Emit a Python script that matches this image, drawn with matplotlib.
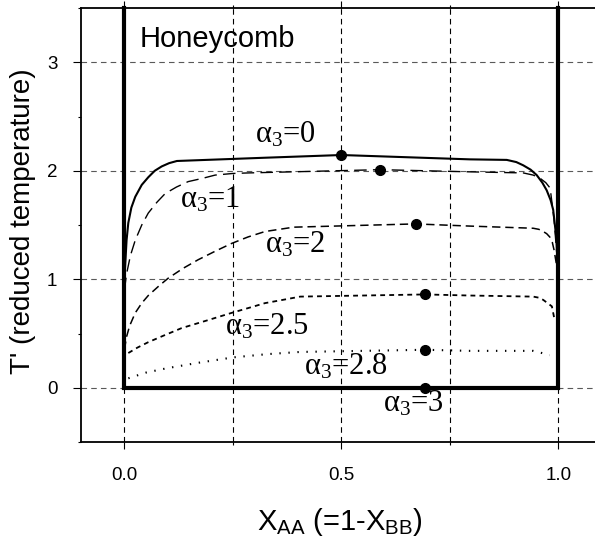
import matplotlib
matplotlib.use('Agg')
import matplotlib.pyplot as plt
from matplotlib.ticker import MultipleLocator, FormatStrFormatter

plt.rcParams['mathtext.fontset'] = 'custom'
plt.rcParams['mathtext.rm'] = 'Liberation Serif'
plt.rcParams['mathtext.it'] = 'Liberation Serif:italic'
plt.rcParams['mathtext.sf'] = 'Liberation Sans'
plt.rcParams['mathtext.default'] = 'rm'
plt.rcParams['lines.scale_dashes'] = False

# phase boundaries, one per alpha_3
x_a0 = [0.0, 0.005, 0.009, 0.016, 0.025, 0.04, 0.055, 0.07, 0.086, 0.103, 0.121, 0.324, 0.5,
        0.796, 0.881, 0.903, 0.919, 0.936, 0.95, 0.963, 0.973, 0.982, 0.988, 0.995, 1.0]
y_a0 = [1.0, 1.36, 1.52, 1.66, 1.76, 1.87, 1.94, 2.0, 2.04, 2.07, 2.09, 2.12, 2.145,
        2.105, 2.10, 2.08, 2.05, 2.01, 1.96, 1.89, 1.82, 1.73, 1.64, 1.39, 1.0]

x_a1 = [0.0, 0.005, 0.014, 0.025, 0.04, 0.055, 0.075, 0.094, 0.12, 0.147, 0.18, 0.209, 0.25, 0.286,
        0.589, 0.796, 0.919, 0.942, 0.958, 0.971, 0.981, 0.99, 0.997]
y_a1 = [0.9, 1.05, 1.22, 1.36, 1.50, 1.61, 1.71, 1.79, 1.85, 1.90, 1.93, 1.96, 1.975, 1.98,
        2.01, 1.99, 1.98, 1.96, 1.93, 1.89, 1.84, 1.55, 1.2]

x_a2 = [0.0, 0.005, 0.012, 0.025, 0.04, 0.055, 0.08, 0.101, 0.135, 0.17, 0.21, 0.247, 0.285, 0.324,
        0.39, 0.671, 0.796, 0.942, 0.955, 0.965, 0.973, 0.98, 0.986, 0.99, 0.997]
y_a2 = [0.35, 0.47, 0.57, 0.69, 0.78, 0.85, 0.94, 1.01, 1.10, 1.18, 1.26, 1.33, 1.39, 1.44,
        1.48, 1.51, 1.49, 1.47, 1.46, 1.44, 1.42, 1.39, 1.34, 1.27, 1.1]

x_a25 = [0.009, 0.03, 0.055, 0.09, 0.132, 0.19, 0.247, 0.29, 0.324, 0.365, 0.405, 0.693,
         0.796, 0.942, 0.955, 0.965, 0.975, 0.985, 0.99]
y_a25 = [0.32, 0.37, 0.42, 0.48, 0.55, 0.62, 0.69, 0.74, 0.78, 0.81, 0.84, 0.86,
         0.85, 0.84, 0.83, 0.81, 0.78, 0.75, 0.65]

x_a28 = [0.009, 0.05, 0.098, 0.17, 0.251, 0.33, 0.405, 0.693, 0.796, 0.942, 0.962, 0.98]
y_a28 = [0.087, 0.14, 0.18, 0.23, 0.28, 0.31, 0.33, 0.35, 0.34, 0.34, 0.32, 0.30]

# critical points
dot_x = [0.5, 0.589, 0.671, 0.693, 0.693, 0.693]
dot_y = [2.145, 2.01, 1.51, 0.86, 0.35, 0.0]
alpha3 = ['0', '1', '2', '2.5', '2.8', '3']

# alpha_3 = 3 boundary (square)
box_x = [0.0, 0.0, 1.0, 1.0]
box_y = [3.5, 0.0, 0.0, 3.5]

fig = plt.figure(figsize=(5.95, 5.44), dpi=100)
ax = fig.add_axes([81/595, 102/544, 520.8/595, 434/544])
ax.set_xlim(-0.1, 1.1)
ax.set_ylim(-0.5, 3.5)

ax.xaxis.set_major_locator(MultipleLocator(0.5))
ax.xaxis.set_minor_locator(MultipleLocator(0.25))
ax.xaxis.set_major_formatter(FormatStrFormatter('%.1f'))
ax.yaxis.set_major_locator(MultipleLocator(1))
ax.yaxis.set_minor_locator(MultipleLocator(0.5))

ax.xaxis.grid(True, which='both', color='black', ls=(0, (4, 3)), lw=0.8)
ax.yaxis.grid(True, which='major', color='0.35', ls=(0, (4, 3)), lw=0.8)
ax.set_axisbelow(True)

ax.tick_params(axis='x', which='major', direction='out', length=5, width=0.8,
               top=True, pad=13, labelsize=13.5)
ax.tick_params(axis='x', which='minor', direction='out', length=2.5, width=0.8, top=True)
ax.tick_params(axis='y', which='major', direction='out', length=6, width=0.8,
               pad=11, labelsize=13.5)
ax.tick_params(axis='y', which='minor', direction='out', length=2.5, width=0.8)
for lab in ax.get_xticklabels() + ax.get_yticklabels():
    lab.set_family('Liberation Sans')
for sp in ax.spines.values():
    sp.set_linewidth(1.3)

ax.plot(box_x, box_y, color='black', lw=3, solid_joinstyle='miter', clip_on=False)
ax.plot(x_a0, y_a0, color='black', lw=1.5)
ax.plot(x_a1, y_a1, color='black', lw=1.0, ls=(0, (9, 4.5)))
ax.plot(x_a2, y_a2, color='black', lw=1.1, ls=(0, (6, 3.5)))
ax.plot(x_a25, y_a25, color='black', lw=1.3, ls=(0, (3.5, 3)))
ax.plot(x_a28, y_a28, color='black', lw=1.5, ls=(0, (1, 5.5)))
ax.plot(dot_x, dot_y, 'o', color='black', ms=7, clip_on=False)

label_pos = [(0.301, 2.26), (0.129, 1.66), (0.324, 1.25),
             (0.232, 0.49), (0.414, 0.126), (0.596, -0.22)]
for (lx, ly), a in zip(label_pos, alpha3):
    ax.text(lx, ly, r'$\alpha_3$=' + a, family='Liberation Serif', fontsize=22,
            ha='left', va='baseline')

ax.text(0.036, 3.14, 'Honeycomb', family='Liberation Sans', fontsize=21,
        ha='left', va='baseline')

fig.text(23/595, 1 - 221/544, "T' (reduced temperature)", rotation=90,
         family='Liberation Sans', fontsize=20, ha='center', va='center')
fig.text(340/595, 1 - 530/544, r'X$_{\mathsf{AA}}$ (=1-X$_{\mathsf{BB}}$)',
         family='Liberation Sans', fontsize=21, ha='center', va='baseline')

fig.savefig('out.png', dpi=100)
